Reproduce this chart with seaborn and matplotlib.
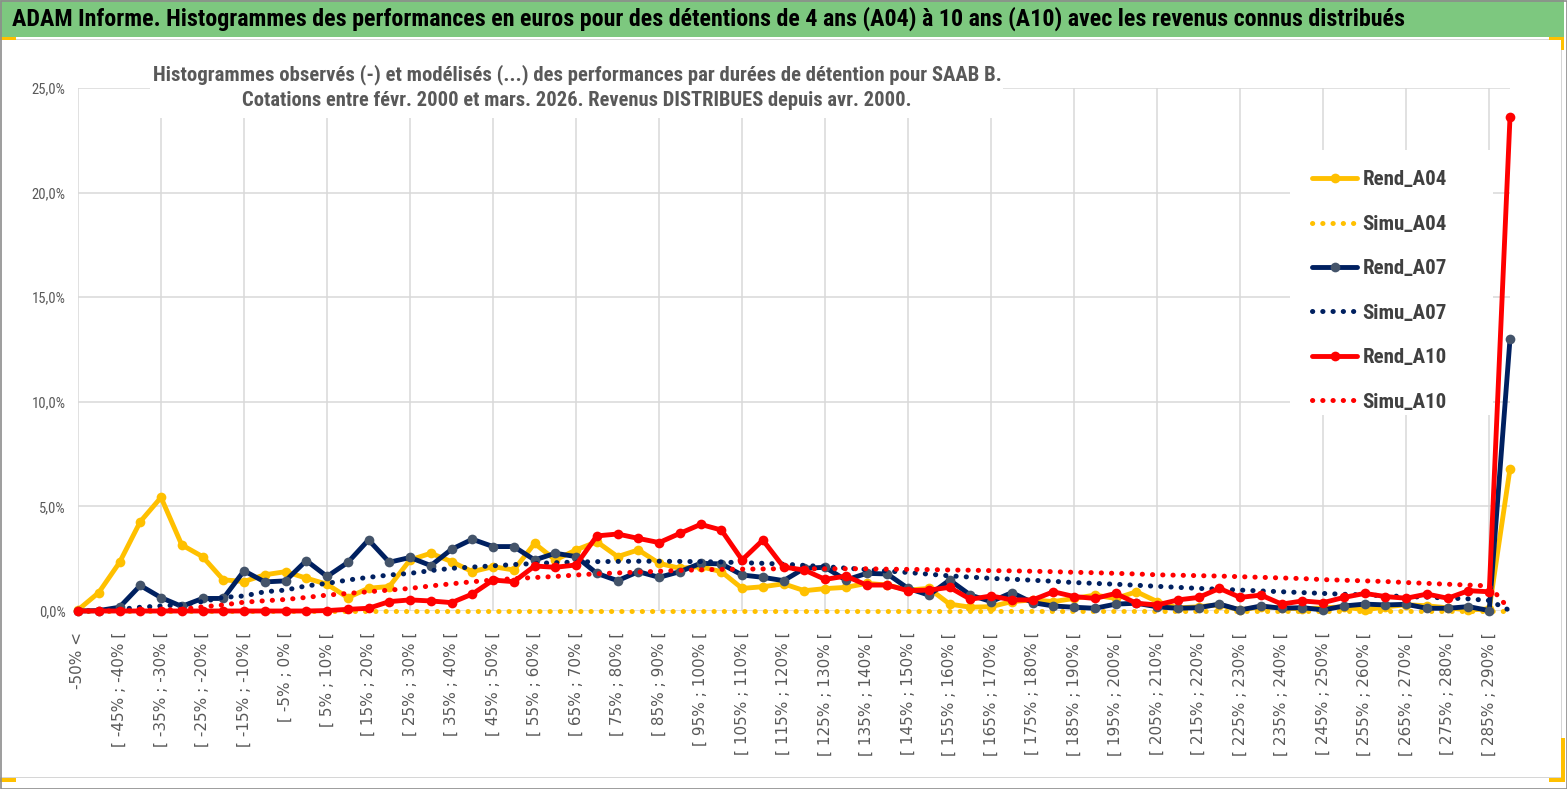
import numpy as np
import pandas as pd
import matplotlib
matplotlib.use("Agg")
import matplotlib.pyplot as plt
import matplotlib.font_manager as fm
from matplotlib.patches import Rectangle
from matplotlib.lines import Line2D
import seaborn as sns

# ---------------- data ----------------
categories = ["-50% <"] + [f"[ {-55 + 5 * k}% ; {-50 + 5 * k}% [" for k in range(1, 69)] + ["290% >"]

rend_a04 = [0.05, 0.88, 2.32, 4.27, 5.43, 3.16, 2.60, 1.49, 1.41, 1.73,
            1.88, 1.57, 1.28, 0.64, 1.09, 1.17, 2.44, 2.76, 2.36, 1.88,
            2.12, 1.96, 3.23, 2.44, 2.92, 3.31, 2.60, 2.92, 2.28, 2.04,
            2.12, 1.88, 1.08, 1.16, 1.30, 0.97, 1.07, 1.13, 1.32, 1.24,
            1.00, 1.08, 0.33, 0.18, 0.21, 0.45, 0.53, 0.45, 0.60, 0.76,
            0.60, 0.92, 0.45, 0.15, 0.20, 0.30, 0.05, 0.20, 0.15, 0.10,
            0.15, 0.20, 0.05, 0.20, 0.30, 0.25, 0.15, 0.05, 0.10, 6.80]

simu_a04 = [0.0] * 70

rend_a07 = [0.00, 0.02, 0.18, 1.22, 0.64, 0.22, 0.60, 0.60, 1.92, 1.39,
            1.44, 2.41, 1.65, 2.32, 3.40, 2.33, 2.56, 2.17, 2.95, 3.43,
            3.08, 3.08, 2.44, 2.76, 2.60, 1.80, 1.45, 1.88, 1.61, 1.88,
            2.28, 2.25, 1.72, 1.61, 1.45, 2.04, 2.09, 1.48, 1.80, 1.77,
            1.08, 0.76, 1.48, 0.76, 0.45, 0.88, 0.40, 0.24, 0.18, 0.13,
            0.33, 0.37, 0.20, 0.13, 0.16, 0.33, 0.05, 0.24, 0.13, 0.16,
            0.05, 0.24, 0.33, 0.29, 0.32, 0.13, 0.13, 0.21, 0.02, 13.00]

simu_a07 = [0.00, 0.02, 0.08, 0.18, 0.24, 0.30, 0.45, 0.65, 0.72, 0.92,
            1.00, 1.20, 1.32, 1.48, 1.61, 1.72, 1.80, 1.93, 2.04, 2.10,
            2.16, 2.22, 2.27, 2.31, 2.34, 2.36, 2.37, 2.38, 2.38, 2.37,
            2.36, 2.34, 2.31, 2.28, 2.24, 2.18, 2.12, 2.05, 1.98, 1.91,
            1.84, 1.76, 1.68, 1.62, 1.56, 1.52, 1.47, 1.42, 1.36, 1.32,
            1.28, 1.23, 1.18, 1.13, 1.08, 1.04, 1.00, 0.96, 0.92, 0.88,
            0.84, 0.80, 0.77, 0.73, 0.69, 0.66, 0.62, 0.58, 0.50, 0.02]

rend_a10 = [0.00, 0.00, 0.00, 0.00, 0.00, 0.00, 0.00, 0.00, 0.00, 0.00,
            0.00, 0.00, 0.02, 0.08, 0.13, 0.45, 0.53, 0.48, 0.40, 0.81,
            1.48, 1.40, 2.15, 2.09, 2.20, 3.59, 3.68, 3.47, 3.27, 3.71,
            4.14, 3.87, 2.44, 3.39, 2.10, 1.96, 1.51, 1.67, 1.24, 1.24,
            0.97, 1.00, 1.13, 0.56, 0.72, 0.53, 0.53, 0.92, 0.69, 0.60,
            0.84, 0.37, 0.29, 0.53, 0.65, 1.08, 0.65, 0.76, 0.33, 0.48,
            0.40, 0.65, 0.84, 0.69, 0.61, 0.81, 0.61, 0.97, 0.92, 23.60]

simu_a10 = [0.00, 0.00, 0.01, 0.02, 0.04, 0.08, 0.20, 0.29, 0.42, 0.49,
            0.55, 0.65, 0.76, 0.84, 0.92, 1.00, 1.08, 1.20, 1.30, 1.40,
            1.48, 1.55, 1.60, 1.65, 1.72, 1.78, 1.82, 1.86, 1.90, 1.94,
            1.97, 1.99, 2.00, 2.01, 2.02, 2.02, 2.02, 2.02, 2.02, 2.00,
            1.99, 1.98, 1.96, 1.95, 1.93, 1.92, 1.90, 1.88, 1.85, 1.83,
            1.80, 1.77, 1.73, 1.71, 1.69, 1.67, 1.64, 1.61, 1.58, 1.55,
            1.50, 1.47, 1.44, 1.41, 1.36, 1.32, 1.28, 1.24, 1.20, 0.05]

series_names = ["Rend_A04", "Simu_A04", "Rend_A07", "Simu_A07", "Rend_A10", "Simu_A10"]
y_ticks = [0, 5, 10, 15, 20, 25]
y_tick_labels = ["0,0%", "5,0%", "10,0%", "15,0%", "20,0%", "25,0%"]

title = ("ADAM Informe. Histogrammes des performances en euros pour des détentions "
         "de 4 ans (A04) à 10 ans (A10) avec les revenus connus distribués")
subtitle1 = ("Histogrammes observés (-) et modélisés (...) des performances par durées "
             "de détention pour SAAB B.")
subtitle2 = "Cotations entre févr. 2000 et mars. 2026. Revenus DISTRIBUES depuis avr. 2000."

# ---------------- styling ----------------
sns.set_style("white")
avail = {f.name for f in fm.fontManager.ttflist}


def pick(*names):
    for n in names:
        if n in avail:
            return n
    return "DejaVu Sans"


NARROW = pick("Liberation Sans Narrow", "Roboto Condensed", "Open Sans Condensed",
              "Noto Sans Condensed", "Liberation Sans")
plt.rcParams["font.family"] = ["DejaVu Sans"]

W, H = 1567, 789
fig = plt.figure(figsize=(W / 100, H / 100), dpi=100)
fig.patch.set_facecolor("white")


def fx(px):
    return px / W


def fy(py):
    return 1 - py / H


ax = fig.add_axes([fx(78), fy(611), fx(1510) - fx(78), fy(88) - fy(611)])
ax.set_facecolor("none")

n = len(categories)
df = pd.DataFrame({"pos": np.arange(n), "Rend_A04": rend_a04, "Simu_A04": simu_a04,
                   "Rend_A07": rend_a07, "Simu_A07": simu_a07,
                   "Rend_A10": rend_a10, "Simu_A10": simu_a10})

YEL, NAVY, RED, MARK07 = "#FFC000", "#002060", "#FF0000", "#44546A"
DOT = (0, (0.05, 2.0))
LW, MS, DLW = 3.5, 7.0, 3.6
styles = {
    "Rend_A04": dict(color=YEL, lw=LW, marker="o", markersize=MS, markerfacecolor=YEL,
                     markeredgecolor=YEL, markeredgewidth=0),
    "Simu_A04": dict(color=YEL, lw=DLW, linestyle=DOT, dash_capstyle="round"),
    "Rend_A07": dict(color=NAVY, lw=LW, marker="o", markersize=MS, markerfacecolor=MARK07,
                     markeredgecolor=MARK07, markeredgewidth=0),
    "Simu_A07": dict(color=NAVY, lw=DLW, linestyle=DOT, dash_capstyle="round"),
    "Rend_A10": dict(color=RED, lw=LW, marker="o", markersize=MS, markerfacecolor=RED,
                     markeredgecolor=RED, markeredgewidth=0),
    "Simu_A10": dict(color=RED, lw=DLW, linestyle=DOT, dash_capstyle="round"),
}
for i, name in enumerate(series_names):
    sns.lineplot(data=df, x="pos", y=name, ax=ax, legend=False, clip_on=False,
                 zorder=3 + i, **styles[name])

ax.set_xlim(0, n - 1)
ax.set_ylim(0, 25)
ax.set_xlabel("")
ax.set_ylabel("")
for s in ax.spines.values():
    s.set_visible(False)

major = list(range(0, n, 4))
minor = list(range(2, n, 4))
ax.set_xticks(major, labels=[categories[i] for i in major])
ax.set_xticks(minor, labels=[categories[i] for i in minor], minor=True)
ax.set_yticks(y_ticks, labels=y_tick_labels)
ax.tick_params(axis="x", which="both", length=0, pad=15, labelrotation=90,
               labelsize=11, labelcolor="#595959")
ax.tick_params(axis="y", length=0, pad=9, labelsize=10.5, labelcolor="#595959")
for lab in ax.get_yticklabels():
    lab.set_fontfamily(NARROW)
ax.set_axisbelow(True)
ax.grid(True, which="major", axis="both", color="#D9D9D9", lw=1.1)
ax.grid(False, which="minor")

# white boxes (subtitle and legend areas) hiding the gridlines
ax.add_patch(Rectangle((fx(150), fy(118)), fx(1003) - fx(150), fy(58) - fy(118),
                       transform=fig.transFigure, fc="white", ec="none", zorder=1,
                       clip_on=False))
ax.add_patch(Rectangle((fx(1290), fy(415)), fx(1493) - fx(1290), fy(150) - fy(415),
                       transform=fig.transFigure, fc="white", ec="none", zorder=1,
                       clip_on=False))

# legend
handles = [Line2D([], [], **{k: v for k, v in styles[nm].items()}) for nm in series_names]
leg = ax.legend(handles, series_names, loc="upper left",
                bbox_to_anchor=(fx(1302), fy(160)), bbox_transform=fig.transFigure,
                frameon=False, handlelength=2.15, handletextpad=0.25, labelspacing=1.22,
                borderpad=0, prop=dict(family=NARROW, weight="bold", size=15))
for t in leg.get_texts():
    t.set_color("#404040")

# ---------------- frame decorations ----------------
def frect(x0, y0, x1, y1, **kw):
    fig.add_artist(Rectangle((fx(x0), fy(y1)), fx(x1) - fx(x0), fy(y0) - fy(y1),
                             transform=fig.transFigure, **kw))


frect(0, 0, 1564, 37, fc="#7DC87F", ec="none", zorder=5)
frect(0, 39, 1562, 40, fc="#D6D6D6", ec="none", zorder=5)
frect(1561, 40, 1562, 777, fc="#D6D6D6", ec="none", zorder=5)
frect(0, 776.5, 1562, 777.5, fc="#D6D6D6", ec="none", zorder=5)
frect(0, 37, 16, 40, fc=YEL, ec="none", zorder=6)
frect(1549, 37, 1564, 40, fc=YEL, ec="none", zorder=6)
frect(1561, 37, 1564, 50, fc=YEL, ec="none", zorder=6)
frect(0, 778, 16, 782, fc=YEL, ec="none", zorder=6)
frect(1549, 778, 1565, 782, fc=YEL, ec="none", zorder=6)
frect(1561, 738, 1565, 782, fc=YEL, ec="none", zorder=6)
frect(0.5, 0.5, 1566.5, 788.5, fc="none", ec="#8C8C8C", lw=1.2, zorder=7)

# ---------------- titles ----------------
t_main = fig.text(fx(12), fy(19), title, ha="left", va="center", color="black",
                  family=NARROW, weight="bold", fontsize=16, zorder=8)
t_s1 = fig.text(fx(577), fy(75), subtitle1, ha="center", va="center", color="#595959",
                family=NARROW, weight="bold", fontsize=13, zorder=8)
t_s2 = fig.text(fx(577), fy(101), subtitle2, ha="center", va="center", color="#595959",
                family=NARROW, weight="bold", fontsize=13, zorder=8)

fig.canvas.draw()
r = fig.canvas.get_renderer()
for t, wpx in [(t_main, 1388), (t_s1, 845), (t_s2, 665)]:
    w = t.get_window_extent(r).width
    t.set_fontsize(t.get_fontsize() * wpx / w)

fig.savefig("out.png", dpi=100, facecolor="white")
